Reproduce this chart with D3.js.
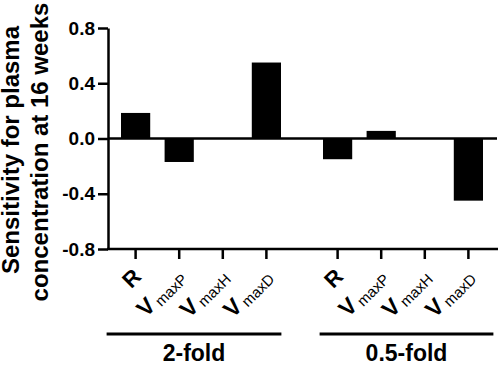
<!DOCTYPE html>
<html>
<head>
<script src="https://cdn.jsdelivr.net/npm/d3@7"></script>
<style>
  body { margin: 0; background: #fff; }
  svg text { font-family: "Liberation Sans", Arial, sans-serif; fill: #000; }
  .axis path, .axis line { stroke: #000; stroke-width: 2.5; }
  .axis text { font-size: 19px; font-weight: bold; }
</style>
</head>
<body>
<svg id="chart" width="500" height="365"></svg>
<script>
// data
var groups = ["2-fold", "0.5-fold"];
var params = ["R", "VmaxP", "VmaxH", "VmaxD"];
var subs = ["", "maxP", "maxH", "maxD"];
var values2fold = [0.185, -0.17, 0, 0.55];
var values05fold = [-0.15, 0.055, 0, -0.45];
var yTicks = [-0.8, -0.4, 0.0, 0.4, 0.8];

var seriesByGroup = [values2fold, values05fold];

var svg = d3.select("#chart");
var plotLeft = 108, plotRight = 498, plotTop = 28, plotBottom = 249;

var y = d3.scaleLinear().domain([-0.8, 0.8]).range([plotBottom, plotTop]);
var xGroup = d3.scaleBand().domain(groups).range([100, 504]);
var xParam = d3.scaleBand().domain(params).range([21, 181]).paddingInner(0.33);

// y axis
svg.append("g")
  .attr("class", "axis")
  .attr("transform", "translate(" + plotLeft + ",0)")
  .call(d3.axisLeft(y).tickValues(yTicks).tickSize(10).tickSizeOuter(0).tickPadding(3)
    .tickFormat(function(d){ return d.toFixed(1); }));

// bottom baseline
svg.append("line")
  .attr("x1", plotLeft - 1).attr("x2", plotRight)
  .attr("y1", plotBottom).attr("y2", plotBottom)
  .attr("stroke", "#000").attr("stroke-width", 2.5);

// zero line
svg.append("line")
  .attr("x1", plotLeft).attr("x2", plotRight - 1)
  .attr("y1", y(0)).attr("y2", y(0))
  .attr("stroke", "#000").attr("stroke-width", 2.5);

// groups
var underline = [[-29, 15], [-18, 25]];
groups.forEach(function(g, gi){
  var gg = svg.append("g").attr("transform", "translate(" + xGroup(g) + ",0)");

  var ax = gg.append("g")
    .attr("class", "axis")
    .attr("transform", "translate(0," + plotBottom + ")")
    .call(d3.axisBottom(xParam).tickSize(10).tickSizeOuter(0).tickFormat(""));
  ax.select(".domain").remove();

  gg.selectAll("rect.bar").data(seriesByGroup[gi])
    .enter().append("rect")
    .attr("class", "bar")
    .attr("x", function(d, i){ return xParam(params[i]); })
    .attr("width", xParam.bandwidth())
    .attr("y", function(d){ return y(Math.max(0, d)); })
    .attr("height", function(d){ return Math.abs(y(d) - y(0)); })
    .attr("fill", "#000");

  // rotated tick labels
  params.forEach(function(p, i){
    var cx = xParam(p) + xParam.bandwidth() / 2;
    var t = gg.append("text")
      .attr("transform", "translate(" + (cx + 7) + "," + (plotBottom + 29) + ") rotate(-45)")
      .attr("text-anchor", "end");
    if (p === "R") {
      t.append("tspan").attr("font-weight", "bold").attr("font-size", 22).text("R");
    } else {
      t.append("tspan").attr("font-weight", "bold").attr("font-size", 23).text("V");
      t.append("tspan").attr("font-size", 15).attr("dx", 3).attr("dy", 3).text(subs[i]);
    }
  });

  var first = xParam(params[0]) + xParam.bandwidth() / 2;
  var last = xParam(params[params.length - 1]) + xParam.bandwidth() / 2;
  gg.append("line")
    .attr("x1", first + underline[gi][0]).attr("x2", last + underline[gi][1])
    .attr("y1", 334).attr("y2", 334)
    .attr("stroke", "#000").attr("stroke-width", 3);

  gg.append("text")
    .attr("x", (first + underline[gi][0] + last + underline[gi][1]) / 2)
    .attr("y", 361)
    .attr("text-anchor", "middle")
    .attr("font-size", 23).attr("font-weight", "bold")
    .text(g);
});

// y title
var title = svg.append("text")
  .attr("transform", "rotate(-90)")
  .attr("text-anchor", "middle")
  .attr("font-size", 24).attr("font-weight", "bold");
title.append("tspan").attr("x", -150).attr("y", 19).text("Sensitivity for plasma");
title.append("tspan").attr("x", -152).attr("y", 48).text("concentration at 16 weeks");
</script>
</body>
</html>
